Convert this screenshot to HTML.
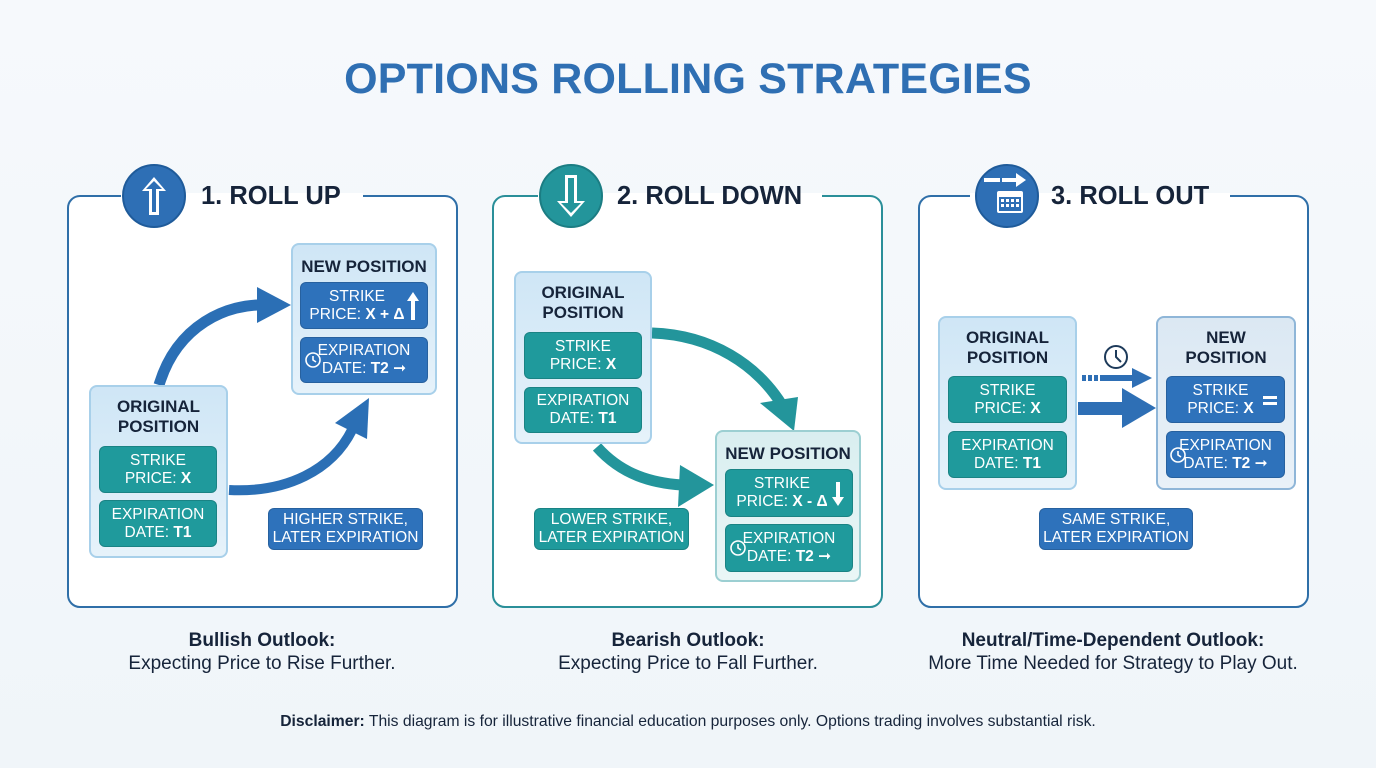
<!DOCTYPE html>
<html><head><meta charset="utf-8"><style>
*{margin:0;padding:0;box-sizing:border-box}
body{width:1376px;height:768px;overflow:hidden;background:linear-gradient(180deg,#f6f9fc 0%,#f0f5f9 100%);font-family:"Liberation Sans",sans-serif;position:relative}
.a{position:absolute}
.title{left:0;width:1376px;top:55px;text-align:center;font-size:43px;font-weight:bold;color:#2f6fb3;letter-spacing:0.2px}
.panel{position:absolute;top:195px;width:391px;height:413px;border:2px solid #2f6fa8;border-radius:13px;background:#fff}
.panel.t{border-color:#2a8f99}
.gap{position:absolute;top:-4px;height:8px;background:#fff}
.h{position:absolute;top:182px;font-size:25.5px;font-weight:bold;color:#16243a}
.cont{position:absolute;border:2px solid #a8d0ea;border-radius:8px;background:linear-gradient(180deg,#cfe6f6,#e6f2fa);}
.cont .ct{position:absolute;left:0;right:0;text-align:center;font-weight:bold;font-size:17px;color:#16243a;line-height:20px}
.bx{position:absolute;border-radius:6px;color:#fff;text-align:center;font-size:15.5px;line-height:18px;display:flex;align-items:center;justify-content:center;flex-direction:column;border:1px solid rgba(0,0,0,0.15)}
.tl{background:#1f9a9c}
.bl{background:#2e72bb}
.cap{position:absolute;width:400px;text-align:center;color:#16243a;font-size:19px;line-height:23px}
</style></head><body>
<div class="a title">OPTIONS ROLLING STRATEGIES</div>

<!-- Panel 1 -->
<div class="panel" style="left:67px"><div class="gap" style="left:52px;width:242px"></div></div>
<svg class="a" style="left:121px;top:163px" width="66" height="66"><circle cx="33" cy="33" r="31" fill="#2e6fb5" stroke="#1f5b9a" stroke-width="2"/><path d="M33 14 L45 28 L38 28 L38 52 L28 52 L28 28 L21 28 Z" fill="#fff"/><path d="M33 18 L41 26 L35 26 L35 49 L31 49 L31 26 L25 26 Z" fill="#2e6fb5"/></svg>
<div class="h" style="left:201px">1. ROLL UP</div>

<svg class="a" style="left:67px;top:195px" width="391" height="413">
<path d="M92 190 C110 130 160 108 200 110" fill="none" stroke="#2b6fb5" stroke-width="11"/>
<polygon points="190,92 224,110 190,128" fill="#2b6fb5"/>
<path d="M162 295 C220 298 265 275 285 235" fill="none" stroke="#2b6fb5" stroke-width="10"/>
<polygon points="268,228 302,203 300,244" fill="#2b6fb5"/>
</svg>
<div class="cont" style="left:89px;top:385px;width:139px;height:173px"><div class="ct" style="top:10px">ORIGINAL<br>POSITION</div></div>
<div class="bx tl" style="left:99px;top:446px;width:118px;height:47px">STRIKE<span>PRICE: <b>X</b></span></div>
<div class="bx tl" style="left:99px;top:500px;width:118px;height:47px">EXPIRATION<span>DATE: <b>T1</b></span></div>
<div class="cont" style="left:291px;top:243px;width:146px;height:152px"><div class="ct" style="top:12px">NEW POSITION</div></div>
<div class="bx bl" style="left:300px;top:282px;width:128px;height:47px;padding-right:14px">STRIKE<span>PRICE: <b>X + Δ</b></span></div>
<svg class="a" style="left:406px;top:290px" width="14" height="32"><path d="M7 2 L13 11 L9 11 L9 30 L5 30 L5 11 L1 11 Z" fill="#fff"/></svg>
<div class="bx bl" style="left:300px;top:337px;width:128px;height:46px">EXPIRATION<span>DATE: <b>T2</b> &#10142;</span></div>
<svg class="a" style="left:304px;top:351px" width="18" height="18"><circle cx="9" cy="9" r="7" fill="none" stroke="#fff" stroke-width="1.6"/><path d="M9 5 L9 9 L12 11" stroke="#fff" stroke-width="1.6" fill="none"/></svg>
<div class="bx bl" style="left:268px;top:508px;width:155px;height:42px">HIGHER STRIKE,<span>LATER EXPIRATION</span></div>

<!-- Panel 2 -->
<div class="panel t" style="left:492px"><div class="gap" style="left:44px;width:284px"></div></div>
<svg class="a" style="left:538px;top:163px" width="66" height="66"><circle cx="33" cy="33" r="31" fill="#23959b" stroke="#1b7d83" stroke-width="2"/><path d="M33 54 L47 38 L39 38 L39 12 L27 12 L27 38 L19 38 Z" fill="#fff"/><path d="M33 50 L43 40 L36 40 L36 15 L30 15 L30 40 L23 40 Z" fill="#23959b"/></svg>
<div class="h" style="left:617px">2. ROLL DOWN</div>
<svg class="a" style="left:492px;top:195px" width="391" height="413">
<path d="M160 138 C220 140 265 170 290 210" fill="none" stroke="#23959b" stroke-width="11"/>
<polygon points="268,208 306,202 302,236" fill="#23959b"/>
<path d="M105 252 C130 280 160 288 190 290" fill="none" stroke="#23959b" stroke-width="11"/>
<polygon points="188,270 222,290 186,312" fill="#23959b"/>
</svg>
<div class="cont" style="left:514px;top:271px;width:138px;height:173px"><div class="ct" style="top:10px">ORIGINAL<br>POSITION</div></div>
<div class="bx tl" style="left:524px;top:332px;width:118px;height:47px">STRIKE<span>PRICE: <b>X</b></span></div>
<div class="bx tl" style="left:524px;top:387px;width:118px;height:46px">EXPIRATION<span>DATE: <b>T1</b></span></div>
<div class="cont" style="left:715px;top:430px;width:146px;height:152px;background:linear-gradient(180deg,#d9eef0,#eaf6f6);border-color:#9ccfd2"><div class="ct" style="top:12px">NEW POSITION</div></div>
<div class="bx tl" style="left:725px;top:469px;width:128px;height:48px;padding-right:14px">STRIKE<span>PRICE: <b>X - Δ</b></span></div>
<svg class="a" style="left:831px;top:480px" width="14" height="28"><path d="M7 26 L13 17 L9 17 L9 2 L5 2 L5 17 L1 17 Z" fill="#fff"/></svg>
<div class="bx tl" style="left:725px;top:524px;width:128px;height:48px">EXPIRATION<span>DATE: <b>T2</b> &#10142;</span></div>
<svg class="a" style="left:729px;top:539px" width="18" height="18"><circle cx="9" cy="9" r="7" fill="none" stroke="#fff" stroke-width="1.6"/><path d="M9 5 L9 9 L12 11" stroke="#fff" stroke-width="1.6" fill="none"/></svg>
<div class="bx tl" style="left:534px;top:508px;width:155px;height:42px">LOWER STRIKE,<span>LATER EXPIRATION</span></div>

<!-- Panel 3 -->
<div class="panel" style="left:918px"><div class="gap" style="left:50px;width:260px"></div></div>
<svg class="a" style="left:974px;top:163px" width="66" height="66"><circle cx="33" cy="33" r="31" fill="#2e6fb5" stroke="#1f5b9a" stroke-width="2"/><rect x="10" y="15" width="16" height="4" fill="#fff"/><rect x="28" y="15" width="14" height="4" fill="#fff"/><path d="M42 10 L52 17 L42 24 Z" fill="#fff"/><rect x="23" y="28" width="26" height="22" rx="2" fill="#fff"/><rect x="25" y="34" width="22" height="14" fill="#2e6fb5"/><g fill="#fff"><rect x="27" y="36" width="3" height="3"/><rect x="32" y="36" width="3" height="3"/><rect x="37" y="36" width="3" height="3"/><rect x="42" y="36" width="3" height="3"/><rect x="27" y="41" width="3" height="3"/><rect x="32" y="41" width="3" height="3"/><rect x="37" y="41" width="3" height="3"/><rect x="42" y="41" width="3" height="3"/></g></svg>
<div class="h" style="left:1051px">3. ROLL OUT</div>
<svg class="a" style="left:1078px;top:340px" width="80" height="95">
<circle cx="38" cy="17" r="11" fill="none" stroke="#1d3a5a" stroke-width="2"/><path d="M38 10 L38 17 L43 22" stroke="#1d3a5a" stroke-width="2" fill="none"/>
<g fill="#2e6fb5"><rect x="4" y="35" width="4" height="6"/><rect x="10" y="35" width="4" height="6"/><rect x="16" y="35" width="4" height="6"/><rect x="22" y="35" width="34" height="6"/></g>
<polygon points="54,28 74,38 54,48" fill="#2e6fb5"/>
<rect x="0" y="62" width="45" height="13" fill="#2e6fb5"/>
<polygon points="44,48 78,68 44,88" fill="#2e6fb5"/>
</svg>
<div class="cont" style="left:938px;top:316px;width:139px;height:174px"><div class="ct" style="top:10px">ORIGINAL<br>POSITION</div></div>
<div class="bx tl" style="left:948px;top:376px;width:119px;height:47px">STRIKE<span>PRICE: <b>X</b></span></div>
<div class="bx tl" style="left:948px;top:431px;width:119px;height:47px">EXPIRATION<span>DATE: <b>T1</b></span></div>
<div class="cont" style="left:1156px;top:316px;width:140px;height:174px;background:linear-gradient(180deg,#dbe8f3,#e9f1f8);border-color:#8fb6d8"><div class="ct" style="top:10px">NEW<br>POSITION</div></div>
<div class="bx bl" style="left:1166px;top:376px;width:119px;height:47px;padding-right:10px">STRIKE<span>PRICE: <b>X</b></span></div>
<div class="a" style="left:1263px;top:396px;width:14px;height:3px;background:#fff;box-shadow:0 6px 0 #fff"></div>
<div class="bx bl" style="left:1166px;top:431px;width:119px;height:47px">EXPIRATION<span>DATE: <b>T2</b> &#10142;</span></div>
<svg class="a" style="left:1169px;top:446px" width="18" height="18"><circle cx="9" cy="9" r="7" fill="none" stroke="#fff" stroke-width="1.6"/><path d="M9 5 L9 9 L12 11" stroke="#fff" stroke-width="1.6" fill="none"/></svg>
<div class="bx bl" style="left:1039px;top:508px;width:154px;height:42px">SAME STRIKE,<span>LATER EXPIRATION</span></div>

<!-- Captions -->
<div class="cap" style="left:62px;top:629px"><b>Bullish Outlook:</b><br>Expecting Price to Rise Further.</div>
<div class="cap" style="left:488px;top:629px"><b>Bearish Outlook:</b><br>Expecting Price to Fall Further.</div>
<div class="cap" style="left:913px;top:629px"><b>Neutral/Time-Dependent Outlook:</b><br>More Time Needed for Strategy to Play Out.</div>
<div class="a" style="left:0;width:1376px;top:713px;text-align:center;font-size:15.7px;color:#16243a"><b>Disclaimer:</b> This diagram is for illustrative financial education purposes only. Options trading involves substantial risk.</div>
</body></html>
